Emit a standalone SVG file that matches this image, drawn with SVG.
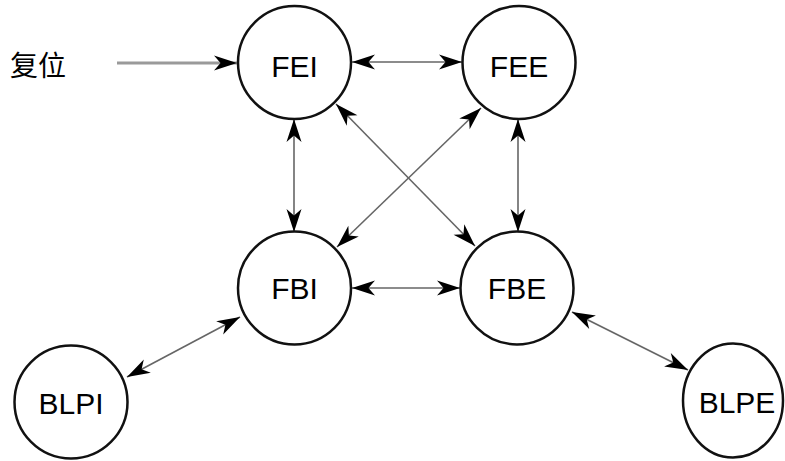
<svg xmlns="http://www.w3.org/2000/svg" width="785" height="461" viewBox="0 0 785 461">
  <style>
    .node { fill: #fff; stroke: #111; stroke-width: 2.5; }
    .lbl { font-family: "Liberation Sans", Arial, sans-serif; font-size: 30px; fill: #000; text-anchor: middle; }
    .cjk { font-family: "Liberation Sans", "Noto Sans CJK SC", sans-serif; font-size: 28px; fill: #000; }
    .edge { stroke: #666; stroke-width: 1.6; fill: none; marker-start: url(#ah); marker-end: url(#ah); }
    .reset { stroke: #9a9a9a; stroke-width: 2.8; fill: none; marker-end: url(#ah); }
  </style>
  <defs>
    <marker id="ah" markerUnits="userSpaceOnUse" markerWidth="26" markerHeight="18" viewBox="0 0 26 18" refX="25" refY="9" orient="auto-start-reverse">
      <path d="M2,1.5 L25,9 L2,16.5 L8.5,9 Z" fill="#000"/>
    </marker>
  </defs>
  <rect width="785" height="461" fill="#fff"/>
  <text class="cjk" x="10" y="76">复位</text>
  <g id="connectors">
    <line class="reset" x1="117" y1="63" x2="237" y2="63"/>
    <line class="edge" x1="352" y1="62" x2="462" y2="62"/>
    <line class="edge" x1="294" y1="119" x2="294" y2="232"/>
    <line class="edge" x1="518" y1="119" x2="518" y2="232"/>
    <line class="edge" x1="352" y1="288" x2="460" y2="288"/>
    <line class="edge" x1="336" y1="104" x2="475" y2="246"/>
    <line class="edge" x1="481" y1="108" x2="337" y2="247"/>
    <line class="edge" x1="240" y1="317" x2="127" y2="377"/>
    <line class="edge" x1="572" y1="312" x2="688" y2="370"/>
  </g>
  <g id="FEI">
    <circle class="node" cx="294.5" cy="62.5" r="56.5"/>
    <text class="lbl" x="294.5" y="77">FEI</text>
  </g>
  <g id="FEE">
    <circle class="node" cx="519" cy="62.5" r="56.5"/>
    <text class="lbl" x="519" y="77">FEE</text>
  </g>
  <g id="FBI">
    <circle class="node" cx="294.5" cy="288" r="56.5"/>
    <text class="lbl" x="294.5" y="299">FBI</text>
  </g>
  <g id="FBE">
    <circle class="node" cx="517" cy="288" r="56.5"/>
    <text class="lbl" x="517" y="299">FBE</text>
  </g>
  <g id="BLPI">
    <circle class="node" cx="71" cy="402" r="56.5"/>
    <text class="lbl" x="71" y="414">BLPI</text>
  </g>
  <g id="BLPE">
    <ellipse class="node" cx="733" cy="400.5" rx="50" ry="57"/>
    <text class="lbl" x="737" y="413">BLPE</text>
  </g>
</svg>
